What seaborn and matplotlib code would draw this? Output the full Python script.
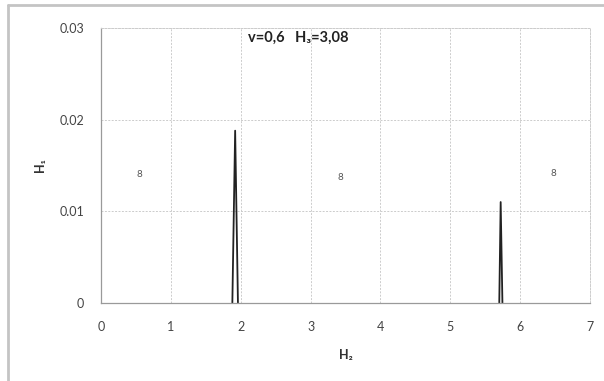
import pandas as pd
import matplotlib
matplotlib.use("Agg")
import matplotlib.pyplot as plt
from matplotlib.lines import Line2D
import seaborn as sns

# Datos
peak_a_h2 = [1.88, 1.92, 1.96]
peak_a_h1 = [0.0, 0.0188, 0.0]
peak_b_h2 = [5.70, 5.72, 5.745]
peak_b_h1 = [0.0, 0.0110, 0.0]

mark_h2 = [0.555, 3.43, 6.47]
mark_h1 = [0.0140, 0.01367, 0.0141]
mark_txt = ["8", "8", "8"]

x_ticks = [0, 1, 2, 3, 4, 5, 6, 7]
y_ticks = [0, 0.01, 0.02, 0.03]
y_labels = ["0", "0.01", "0.02", "0.03"]

df = pd.DataFrame({
    "H2": peak_a_h2 + peak_b_h2,
    "H1": peak_a_h1 + peak_b_h1,
    "pico": ["a"] * len(peak_a_h2) + ["b"] * len(peak_b_h2),
})

sns.set_style("white")
plt.rcParams["font.family"] = ["Lato", "DejaVu Sans"]

fig = plt.figure(figsize=(6.04, 3.81), dpi=100)
ax = fig.add_axes([0.1672, 0.2055, 0.8098, 0.7205])

# marco exterior
fig.add_artist(Line2D([0.013, 0.013], [0.0, 0.987], transform=fig.transFigure,
                      color="#c4c4c4", lw=2.0))
fig.add_artist(Line2D([0.013, 1.0], [0.987, 0.987], transform=fig.transFigure,
                      color="#c4c4c4", lw=2.0))

sns.lineplot(data=df, x="H2", y="H1", units="pico", estimator=None, sort=False,
             color="#222222", lw=1.3, ax=ax)

for x, y, t in zip(mark_h2, mark_h1, mark_txt):
    ax.text(x, y, t, fontsize=7, color="#555555", ha="center", va="center")

ax.text(2.1, 0.0290, "v=0,6   H\u2083=3,08", fontsize=10.5, fontweight="bold",
        color="#222222", ha="left", va="center")

ax.set_xlim(0, 7)
ax.set_ylim(0, 0.03)
ax.set_xticks(x_ticks)
ax.set_yticks(y_ticks)
ax.set_yticklabels(y_labels)
ax.grid(True, color="#cccccc", ls=(0, (2, 1.5)), lw=0.7)

for s in ["top", "right"]:
    ax.spines[s].set_color("#cccccc")
    ax.spines[s].set_linestyle((0, (2, 1.5)))
    ax.spines[s].set_linewidth(0.7)
for s in ["left", "bottom"]:
    ax.spines[s].set_color("#9a9a9a")
    ax.spines[s].set_linewidth(0.9)

ax.tick_params(axis="both", direction="out", length=4, width=0.8, color="#9a9a9a",
               labelsize=9, labelcolor="#444444")
ax.tick_params(axis="x", pad=9)
ax.tick_params(axis="y", pad=8)

ax.set_xlabel("H\u2082", fontsize=9, fontweight="bold", color="#333333", labelpad=12)
ax.set_ylabel("H\u2081", fontsize=9, fontweight="bold", color="#333333", labelpad=10)

fig.savefig("out.png", dpi=100)
